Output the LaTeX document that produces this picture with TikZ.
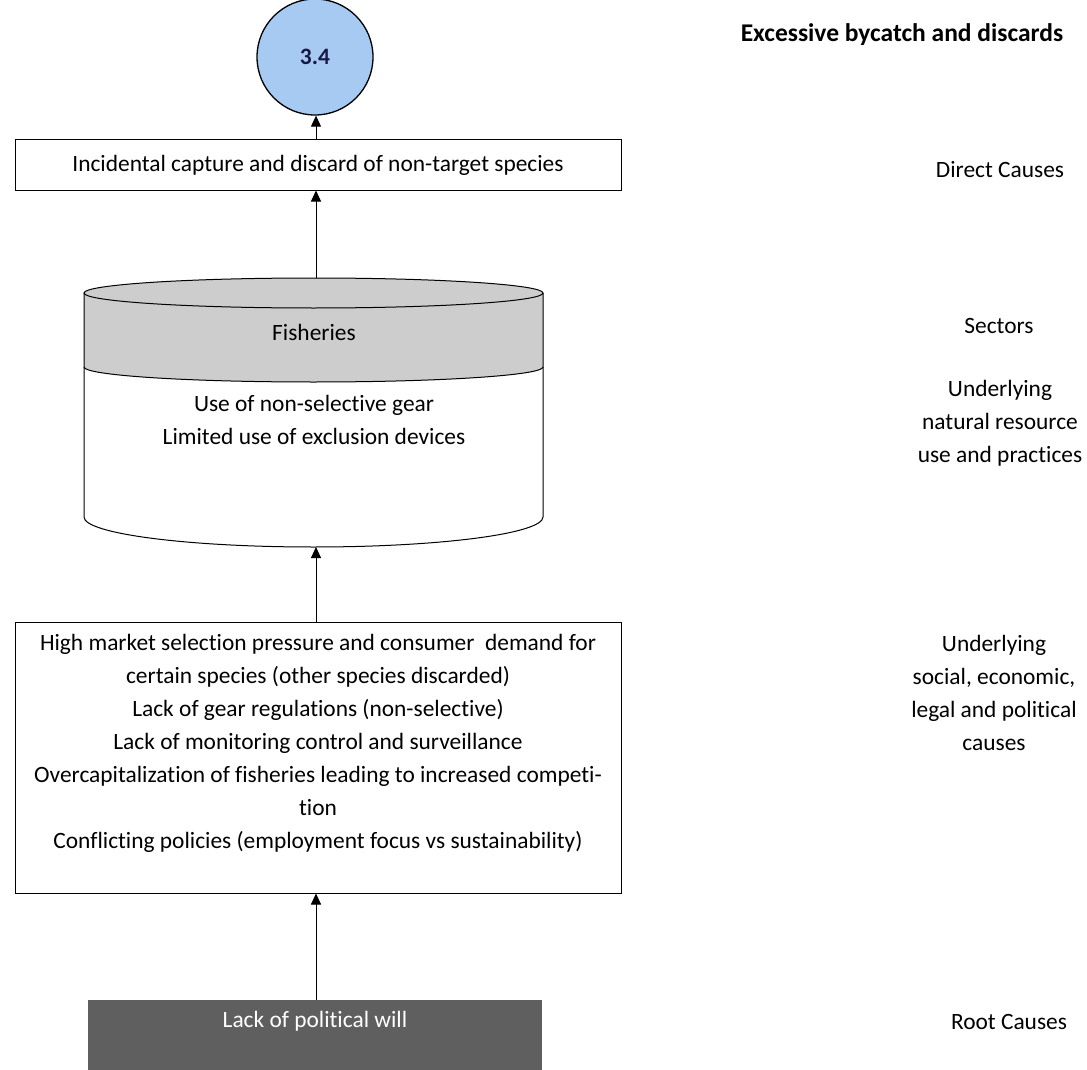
\documentclass[tikz,border=0pt]{standalone}
\usepackage{fontspec}
\setmainfont[Ligatures=NoCommon]{Carlito}
\usetikzlibrary{arrows.meta}
\definecolor{goalblue}{RGB}{166,202,242}
\definecolor{goalink}{RGB}{25,25,70}
\definecolor{bandgray}{RGB}{205,205,205}
\definecolor{rootgray}{RGB}{95,95,95}
\tikzset{
  txt/.style={font=\fontsize{23.4}{33}\selectfont, align=center},
  box/.style={txt, draw, line width=1pt, inner sep=0pt},
  lbl/.style={txt, inner sep=0pt},
  up/.style={-{Triangle[width=10pt,length=11pt]}, line width=1pt}
}
\begin{document}
\begin{tikzpicture}[x=1pt, y=-1pt]
  \useasboundingbox (0,0) rectangle (1087,1070);
  % goal
  \node[circle, draw, line width=1.3pt, fill=goalblue, minimum size=116pt, inner sep=0pt,
        font=\fontsize{23.5}{28}\selectfont\bfseries, text=goalink] (goal) at (315,57) {3.4};
  % direct cause
  \node[box, minimum width=606pt, minimum height=50pt] (direct) at (318,165) {Incidental capture and discard of non-target species};
  % sector cylinder
  \fill[bandgray] (84,293) arc[start angle=180, end angle=0, x radius=229.5pt, y radius=15pt]
    -- (543,367) arc[start angle=0, end angle=-180, x radius=229.5pt, y radius=15pt] -- cycle;
  \draw[line width=1pt] (313.5,293) ellipse[x radius=229.5pt, y radius=15pt];
  \draw[line width=1pt] (84,367) arc[start angle=180, end angle=360, x radius=229.5pt, y radius=15pt];
  \draw[line width=1pt] (84,293) -- (84,517) arc[start angle=180, end angle=360, x radius=229.5pt, y radius=30pt] -- (543,293);
  \coordinate (cyltop) at (316,278);
  \coordinate (cylbot) at (316,547);
  \node[lbl] (fish) at (314,332) {Fisheries};
  \node[lbl] (gear) at (314,420) {Use of non-selective gear\\Limited use of exclusion devices};
  % underlying causes
  \node[box, minimum width=606pt, minimum height=271pt] (causes) at (318,757.5)
    {High market selection pressure and consumer\ \ demand for\\
     certain species (other species discarded)\\
     Lack of gear regulations (non-selective)\\
     Lack of monitoring control and surveillance\\
     Overcapitalization of fisheries leading to increased competi-\\
     tion\\
     Conflicting policies (employment focus vs sustainability)\\ \mbox{}};
  % root cause
  \node[txt, fill=rootgray, text=white, minimum width=454pt, minimum height=72pt, inner sep=0pt] (root) at (315,1036)
    {Lack of political will\\ \mbox{}};
  % connectors
  \draw[up] (direct.north -| cyltop) -- (goal.south -| cyltop);
  \draw[up] (cyltop) -- (direct.south -| cyltop);
  \draw[up] (causes.north -| cylbot) -- (cylbot);
  \draw[up] (root.north -| cylbot) -- (causes.south -| cylbot);
  % level labels
  \node[lbl, font=\fontsize{25.5}{30}\selectfont\bfseries] (title) at (902,35) {Excessive bycatch and discards};
  \node[lbl] (lbldirect) at (1000,170) {Direct Causes};
  \node[lbl] (lblsector) at (999,326) {Sectors};
  \node[lbl] (lblnatural) at (1000,423) {Underlying\\ natural resource\\use and practices};
  \node[lbl] (lblsocial) at (994,693) {Underlying\\social, economic,\\legal and political\\causes};
  \node[lbl] (lblroot) at (1009,1022) {Root Causes};
\end{tikzpicture}
\end{document}
